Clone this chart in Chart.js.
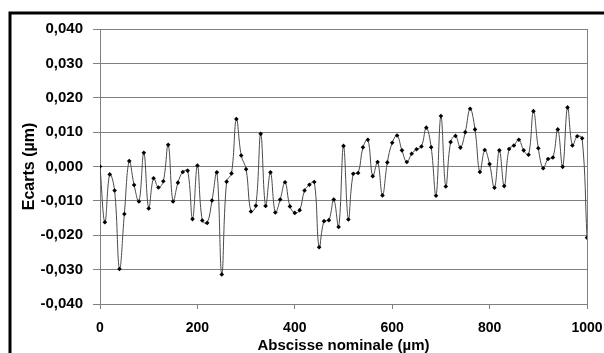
<!DOCTYPE html>
<html>
<head>
<meta charset="utf-8">
<script src="https://cdn.jsdelivr.net/npm/chart.js@4/dist/chart.umd.min.js"></script>
<style>
  html, body { margin: 0; padding: 0; background: #fff; }
  #wrap { width: 604px; height: 353px; }
</style>
</head>
<body>
<div id="wrap"><canvas id="ecartsChart" width="604" height="353"></canvas></div>
<script>
// abscisses nominales (µm), pas de 10
const abscisses = Array.from({ length: 101 }, (_, i) => i * 10);

// écarts mesurés (µm)
const ecarts = [
    0.0000, -0.0162, -0.0023, -0.0070, -0.0298, -0.0138, 0.0016, -0.0054, -0.0102, 0.0040,
    -0.0122, -0.0034, -0.0061, -0.0043, 0.0063, -0.0102, -0.0047, -0.0016, -0.0012, -0.0153,
    0.0003, -0.0157, -0.0164, -0.0099, -0.0017, -0.0314, -0.0044, -0.0020, 0.0138, 0.0032,
    -0.0008, -0.0131, -0.0114, 0.0095, -0.0115, -0.0017, -0.0134, -0.0096, -0.0046, -0.0116,
    -0.0135, -0.0127, -0.0070, -0.0053, -0.0045, -0.0235, -0.0159, -0.0156, -0.0096, -0.0176,
    0.0060, -0.0154, -0.0021, -0.0019, 0.0056, 0.0078, -0.0028, 0.0013, -0.0084, 0.0012,
    0.0069, 0.0090, 0.0047, 0.0013, 0.0037, 0.0050, 0.0058, 0.0113, 0.0056, -0.0085,
    0.0147, -0.0058, 0.0071, 0.0089, 0.0055, 0.0100, 0.0168, 0.0108, -0.0016, 0.0048,
    0.0007, -0.0062, 0.0047, -0.0057, 0.0051, 0.0061, 0.0078, 0.0047, 0.0034, 0.0161,
    0.0053, -0.0005, 0.0022, 0.0026, 0.0108, -0.0001, 0.0172, 0.0061, 0.0088, 0.0082,
    -0.0207
];

const xTicks = [0, 200, 400, 600, 800, 1000];
const yTicks = [-0.04, -0.03, -0.02, -0.01, 0, 0.01, 0.02, 0.03, 0.04];

// cadre noir + bord droit de la zone de tracé
const cadre = {
    id: "cadre",
    afterDraw(chart) {
        const { ctx, chartArea } = chart;
        ctx.save();
        ctx.strokeStyle = "#808080";
        ctx.lineWidth = 1;
        ctx.beginPath();
        ctx.moveTo(chartArea.right + 0.5, chartArea.top);
        ctx.lineTo(chartArea.right + 0.5, chartArea.bottom);
        ctx.stroke();
        ctx.strokeStyle = "#000";
        ctx.lineWidth = 3;
        ctx.strokeRect(10, 13, 620, 400);
        ctx.restore();
    }
};

const fmt = v => (Math.abs(v) < 1e-9 ? 0 : v).toFixed(3).replace(".", ",");

new Chart(document.getElementById("ecartsChart"), {
    type: "line",
    data: {
        datasets: [{
            data: abscisses.map((x, i) => ({ x: x, y: ecarts[i] })),
            borderColor: "#4a4a4a",
            borderWidth: 1,
            tension: 0.4,
            pointStyle: "rectRot",
            pointRadius: 2.3,
            pointBackgroundColor: "#000",
            pointBorderColor: "#000",
            pointBorderWidth: 0
        }]
    },
    options: {
        responsive: false,
        animation: false,
        layout: { padding: { left: 0, top: 29, right: 17, bottom: 0 } },
        plugins: { legend: { display: false }, tooltip: { enabled: false } },
        scales: {
            x: {
                type: "linear",
                min: 0,
                max: 1000,
                afterBuildTicks: s => { s.ticks = xTicks.map(v => ({ value: v })); },
                afterFit: s => { s.height = 49; s.paddingLeft = 0; s.paddingRight = 0; },
                grid: { drawOnChartArea: false, drawTicks: true, tickLength: 5, color: "#808080" },
                border: { display: false },
                ticks: {
                    padding: 11,
                    color: "#000",
                    maxRotation: 0,
                    callback: v => String(v),
                    font: { family: "Liberation Sans, Arial", size: 14, weight: "bold" }
                },
                title: {
                    display: true,
                    text: "Abscisse nominale (µm)",
                    color: "#000",
                    padding: { top: 0, bottom: -2 },
                    font: { family: "Liberation Sans, Arial", size: 15, weight: "bold" }
                }
            },
            y: {
                min: -0.04,
                max: 0.04,
                afterBuildTicks: s => { s.ticks = yTicks.map(v => ({ value: v })); },
                afterFit: s => { s.width = 100; s.paddingTop = 0; s.paddingBottom = 0; },
                grid: { color: "#808080", lineWidth: 1, tickLength: 7 },
                border: { display: true, color: "#808080" },
                ticks: {
                    padding: 10,
                    color: "#000",
                    callback: v => fmt(v),
                    font: { family: "Liberation Sans, Arial", size: 15, weight: "bold" }
                },
                title: {
                    display: true,
                    text: "Ecarts (µm)",
                    color: "#000",
                    padding: { top: 20, bottom: 0 },
                    font: { family: "Liberation Sans, Arial", size: 16, weight: "bold" }
                }
            }
        }
    },
    plugins: [cadre]
});
</script>
</body>
</html>
